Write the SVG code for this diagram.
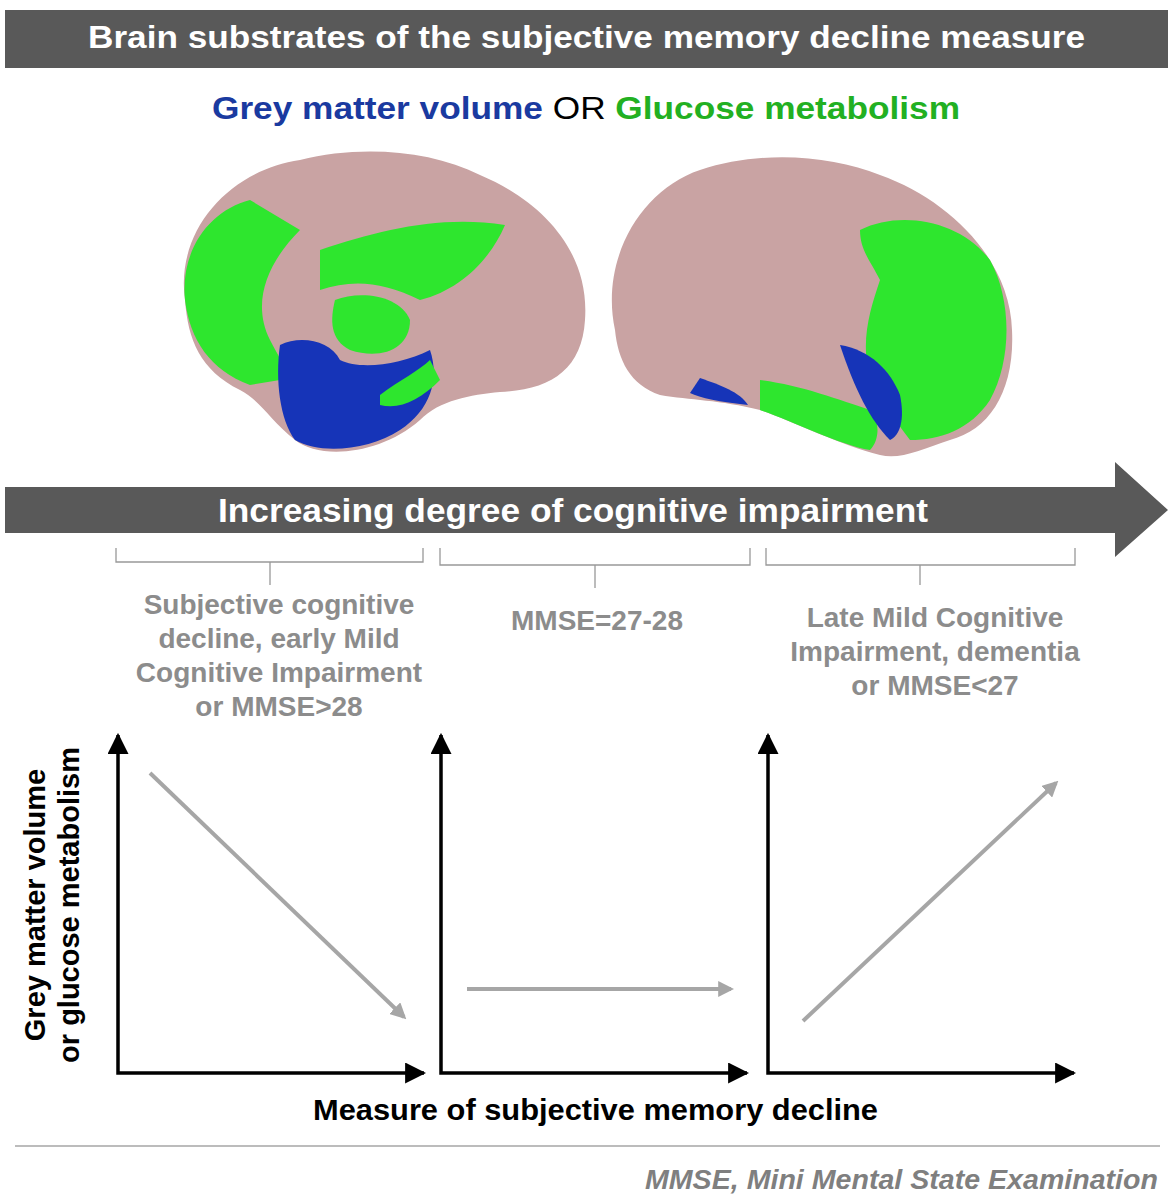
<svg xmlns="http://www.w3.org/2000/svg" width="1173" height="1200" viewBox="0 0 1173 1200">
<defs>
<style>
.t{font-family:"Liberation Sans",Arial,sans-serif;font-weight:bold}
.lab{font-family:"Liberation Sans",Arial,sans-serif;font-weight:bold;font-size:28px;fill:#8c8c8c;text-anchor:middle}
.ax{stroke:#000;stroke-width:3.5;fill:none}
.br{stroke:#999;stroke-width:1.3;fill:none}
.ga{stroke:#a6a6a6;stroke-width:4;fill:none}
.pink{fill:#c9a3a3}
.green{fill:#2ee62e}
.blue{fill:#1634b8}
</style>
<marker id="ah" viewBox="0 0 10 10" refX="9" refY="5" markerWidth="6" markerHeight="6" orient="auto-start-reverse"><path d="M0,0L10,5L0,10z" fill="#000"/></marker>
<marker id="gh" viewBox="0 0 10 10" refX="8" refY="5" markerWidth="4" markerHeight="4" orient="auto"><path d="M0,0L10,5L0,10z" fill="#a6a6a6"/></marker>
</defs>
<rect x="5" y="10" width="1163" height="58" fill="#595959"/>
<text class="t" x="88" y="48" font-size="31" fill="#fff" textLength="997" lengthAdjust="spacingAndGlyphs">Brain substrates of the subjective memory decline measure</text>
<text class="t" x="212" y="119" font-size="32" textLength="748" lengthAdjust="spacingAndGlyphs"><tspan fill="#1a3aa0">Grey matter volume</tspan><tspan fill="#000" font-weight="normal"> OR </tspan><tspan fill="#22b022">Glucose metabolism</tspan></text>
<g id="brain-left">
<path class="pink" d="M185,300 C175,230 230,170 300,160 C360,145 430,150 480,175 C540,200 590,250 585,320 C582,370 550,390 500,392 C470,395 440,400 420,420 C380,455 320,460 295,440 C270,420 260,400 240,390 C200,370 188,340 185,300Z"/>
<path class="green" d="M185,300 C180,250 210,210 250,200 L300,230 C270,260 250,300 270,340 C280,360 290,370 280,380 L250,385 C210,370 190,340 185,300Z"/>
<path class="green" d="M320,250 C380,230 440,215 505,225 C490,260 460,290 420,300 C380,280 350,280 320,290Z"/>
<path class="green" d="M335,300 C360,290 400,295 410,320 C410,350 380,360 350,350 C330,340 330,320 335,300Z"/>
<path class="blue" d="M280,345 C300,335 330,340 340,360 C360,370 400,365 430,350 C440,380 430,410 400,430 C370,450 320,455 295,440 C280,420 275,380 280,345Z"/>
<path class="green" d="M380,395 C400,380 420,370 430,360 L440,380 C420,400 400,410 380,405Z"/>
</g>
<g id="brain-right">
<path class="pink" d="M615,330 C600,260 640,190 700,170 C760,150 830,155 880,175 C950,200 1010,260 1012,330 C1015,390 990,430 950,440 C920,450 900,460 880,455 C840,445 790,420 760,410 C720,400 690,400 660,395 C630,385 618,360 615,330Z"/>
<path class="green" d="M860,230 C900,210 960,220 990,260 C1012,300 1012,360 990,400 C970,430 940,440 910,440 C895,420 880,400 870,380 C860,340 870,310 880,280 C870,260 860,250 860,230Z"/>
<path class="green" d="M760,380 C800,385 840,400 870,410 C880,420 880,440 870,450 C840,445 790,420 760,410Z"/>
<path class="blue" d="M840,345 C870,350 890,370 900,395 C905,420 900,435 890,440 C870,420 855,390 840,345Z"/>
<path class="blue" d="M700,378 C720,385 740,392 748,405 C720,402 700,398 690,393Z"/>
</g>
<g id="arrow-band">
<path d="M5,487 H1115 V462 L1168,510 L1115,557 V533 H5Z" fill="#595959"/>
<text class="t" x="218" y="522" font-size="33" fill="#fff" textLength="710" lengthAdjust="spacingAndGlyphs">Increasing degree of cognitive impairment</text>
</g>
<g id="braces">
<path class="br" d="M116,548 V562 H423 V548 M270,562 V585"/>
<path class="br" d="M440,548 V565 H750 V548 M595,565 V588"/>
<path class="br" d="M766,548 V565 H1075 V548 M920,565 V585"/>
</g>
<g id="label1"><text class="lab"><tspan x="279" y="614">Subjective cognitive</tspan><tspan x="279" y="648">decline, early Mild</tspan><tspan x="279" y="682">Cognitive Impairment</tspan><tspan x="279" y="716">or MMSE&gt;28</tspan></text></g>
<g id="label2"><text class="lab" x="597" y="630">MMSE=27-28</text></g>
<g id="label3"><text class="lab"><tspan x="935" y="627">Late Mild Cognitive</tspan><tspan x="935" y="661">Impairment, dementia</tspan><tspan x="935" y="695">or MMSE&lt;27</tspan></text></g>
<g id="plots">
<path class="ax" d="M118,735 V1073 H424" marker-start="url(#ah)" marker-end="url(#ah)"/>
<path class="ax" d="M441,735 V1073 H747" marker-start="url(#ah)" marker-end="url(#ah)"/>
<path class="ax" d="M768,735 V1073 H1074" marker-start="url(#ah)" marker-end="url(#ah)"/>
</g>
<g id="connectors">
<line class="ga" x1="150" y1="773" x2="404" y2="1017" marker-end="url(#gh)"/>
<line class="ga" x1="467" y1="989" x2="731" y2="989" marker-end="url(#gh)"/>
<line class="ga" x1="803" y1="1021" x2="1056" y2="783" marker-end="url(#gh)"/>
</g>
<g id="y-label"><text class="t" font-size="29" fill="#000" text-anchor="middle" transform="translate(45,905) rotate(-90)"><tspan x="0" y="0">Grey matter volume</tspan><tspan x="0" y="34">or glucose metabolism</tspan></text></g>
<text class="t" x="313" y="1120" font-size="29" fill="#000" textLength="565" lengthAdjust="spacingAndGlyphs">Measure of subjective memory decline</text>
<line x1="15" y1="1146" x2="1160" y2="1146" stroke="#a6a6a6" stroke-width="1.5"/>
<text class="t" x="645" y="1189" font-size="27" font-style="italic" fill="#7f7f7f" textLength="513" lengthAdjust="spacingAndGlyphs">MMSE, Mini Mental State Examination</text>
</svg>
